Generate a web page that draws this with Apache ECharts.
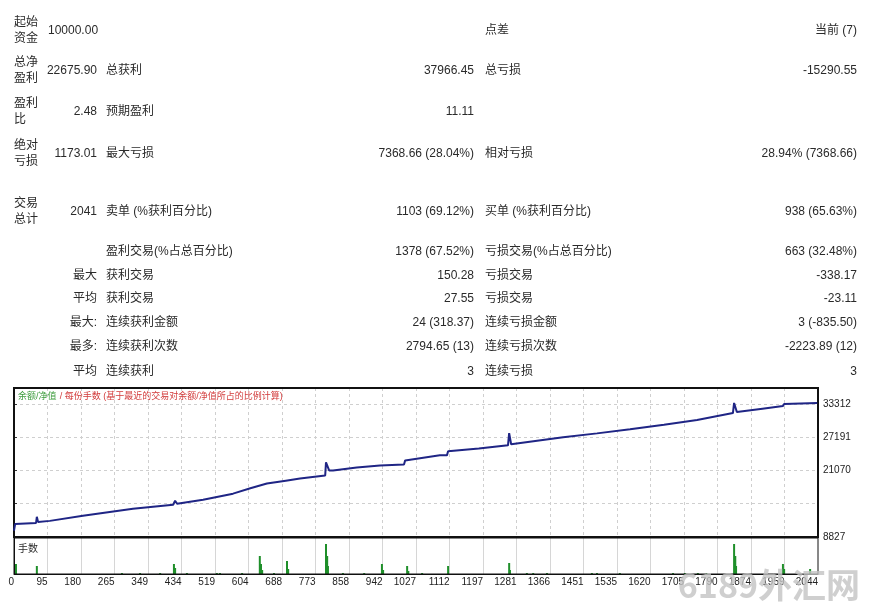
<!DOCTYPE html>
<html><head><meta charset="utf-8">
<script src="https://cdn.jsdelivr.net/npm/echarts@6/dist/echarts.min.js"></script>
<style>html,body{margin:0;padding:0;background:#fff}#c{width:870px;height:607px}</style>
</head><body><div id="c"></div>
<script>
// ---- data ----
const totalTrades = 2041;
const xTickLabels = ['0','95','180','265','349','434','519','604','688','773','858','942','1027','1112','1197','1281','1366','1451','1535','1620','1705','1790','1874','1959','2044'];
const yTickLabels = ['8827','','21070','27191','33312'];
const yMin = 8827, yStep = 6121, yMax = 36250;

const balanceTrade = [0,3,56,58,61,91,175,302,404,409,414,480,556,600,642,690,726,790,792,800,810,870,929,990,993,1081,1099,1102,1180,1254,1257,1262,1394,1480,1564,1650,1734,1825,1828,1835,1900,1952,1955,1958,2039];
const balanceValue = [10000,11238,11424,12537,11610,11795,12723,14021,14763,15505,14949,15690,16804,17800,18659,19200,19586,20143,22554,21070,21070,21600,22001,22183,22925,23852,23852,24594,25100,25708,27934,25894,27191,27900,28676,29500,30345,31644,33499,31829,32450,32942,33313,32990,33499];

const lotTrade = [5,58,274,320,371,406,409,439,515,523,579,624,627,630,660,693,696,792,795,797,835,889,934,937,998,1001,1036,1102,1257,1259,1302,1318,1353,1467,1480,1538,1673,1703,1736,1759,1828,1831,1833,1952,1955,2021];
const lotValue = [1.0,0.8,0.1,0.1,0.1,1.0,0.6,0.1,0.1,0.1,0.1,1.8,1.0,0.4,0.1,1.3,0.5,3.0,1.8,0.8,0.1,0.1,1.0,0.4,0.8,0.3,0.1,0.8,1.1,0.4,0.1,0.1,0.1,0.1,0.1,0.1,0.1,0.1,0.1,0.1,3.0,1.8,0.8,1.0,0.5,0.5];

// report table
const rowLabels = [['起始','资金'],['总净','盈利'],['盈利','比'],['绝对','亏损'],['交易','总计'],[''],['最大'],['平均'],['最大:'],['最多:'],['平均']];
const rowValues = ['10000.00','22675.90','2.48','1173.01','2041','','','','','',''];
const midLabels = ['','总获利','预期盈利','最大亏损','卖单 (%获利百分比)','盈利交易(%占总百分比)','获利交易','获利交易','连续获利金额','连续获利次数','连续获利'];
const midValues = ['','37966.45','11.11','7368.66 (28.04%)','1103 (69.12%)','1378 (67.52%)','150.28','27.55','24 (318.37)','2794.65 (13)','3'];
const rightLabels = ['点差','总亏损','','相对亏损','买单 (%获利百分比)','亏损交易(%占总百分比)','亏损交易','亏损交易','连续亏损金额','连续亏损次数','连续亏损'];
const rightValues = ['当前 (7)','-15290.55','','28.94% (7368.66)','938 (65.63%)','663 (32.48%)','-338.17','-23.11','3 (-835.50)','-2223.89 (12)','3'];
const rowY = [31,71,112,154,212,252,276,299,323,347,372];

// ---- build ----
const FONT = '"Liberation Sans","Noto Sans CJK SC",sans-serif';
const TXT = '#2a2a2a';
const g = [];
function t(x,y,s,align){ g.push({type:'text',x:x,y:y,style:{text:s,fill:TXT,font:'12px '+FONT,textAlign:align||'left',textVerticalAlign:'middle'}}); }
rowY.forEach((y,i)=>{
  const L = rowLabels[i];
  if (L.length===2){ t(14,y-8,L[0]); t(14,y+8,L[1]); }
  else if (L[0]) t(97,y,L[0],'right');
  if (rowValues[i]) t(i===0?48:97,y,rowValues[i],i===0?'left':'right');
  if (midLabels[i]) t(106,y,midLabels[i]);
  if (midValues[i]) t(474,y,midValues[i],'right');
  if (rightLabels[i]) t(485,y,rightLabels[i]);
  if (rightValues[i]) t(857,y,rightValues[i],'right');
});
g.push({type:'text',x:18,y:397,z:10,style:{text:'{g|余额/净值} {r|/ 每份手数 (基于最近的交易对余额/净值所占的比例计算)}',textVerticalAlign:'middle',
  rich:{g:{fill:'#3c9c3c',font:'9px '+FONT},r:{fill:'#d23a3a',font:'9px '+FONT}}}});
g.push({type:'text',x:18,y:549,z:10,style:{text:'手数',fill:TXT,font:'10px '+FONT,textVerticalAlign:'middle'}});
g.push({type:'text',x:860,y:585,z:20,style:{text:'6189外汇网',fill:'rgba(195,195,195,0.8)',font:'bold 34px "Noto Sans CJK SC",sans-serif',textAlign:'right',textVerticalAlign:'middle'}});

const xStep = totalTrades/24;
function xFmt(v){ const i=Math.round(v/xStep); return (Math.abs(v-i*xStep)<0.01 && i<xTickLabels.length)?xTickLabels[i]:''; }
function yFmt(v){ const i=Math.round((v-yMin)/yStep); return (Math.abs(v-(yMin+i*yStep))<0.5 && i<yTickLabels.length)?yTickLabels[i]:''; }

const chart = echarts.init(document.getElementById('c'),null,{renderer:'canvas'});
chart.setOption({
  animation:false,
  backgroundColor:'#fff',
  grid:[
    {left:14,right:52,top:388,height:149,show:true,borderColor:'#111',borderWidth:2,z:3},
    {left:14,right:52,top:538,height:36,show:true,borderColor:'#111',borderWidth:1,z:3}
  ],
  xAxis:[
    {type:'value',gridIndex:0,min:0,max:totalTrades,interval:xStep,axisLabel:{show:false},axisTick:{show:false},
     axisLine:{show:true,lineStyle:{color:'#111',width:2}},
     splitLine:{show:true,showMinLine:false,showMaxLine:false,lineStyle:{color:'#cfcfcf',type:[3,3],width:1}}},
    {type:'value',gridIndex:1,min:0,max:totalTrades,interval:xStep,axisTick:{show:false},
     axisLine:{show:true,lineStyle:{color:'#111',width:1}},
     splitLine:{show:true,showMinLine:false,showMaxLine:false,lineStyle:{color:'#d6d6d6',width:1}},
     axisLabel:{show:true,formatter:xFmt,align:'right',margin:3,color:'#222',fontSize:10,fontFamily:FONT,showMinLabel:true,showMaxLabel:true,hideOverlap:false}}
  ],
  yAxis:[
    {type:'value',gridIndex:0,position:'right',min:yMin,max:yMax,interval:yStep,
     axisLine:{show:true,lineStyle:{color:'#111',width:1}},axisTick:{show:true,length:3,lineStyle:{color:'#333'}},
     splitLine:{show:true,showMinLine:false,showMaxLine:false,lineStyle:{color:'#cfcfcf',type:[3,3]}},
     axisLabel:{formatter:yFmt,margin:5,color:'#222',fontSize:10,fontFamily:FONT,showMinLabel:true,showMaxLabel:true}},
    {type:'value',gridIndex:1,position:'right',min:0,max:3.6,axisLabel:{show:false},axisTick:{show:false},
     axisLine:{show:true,lineStyle:{color:'#111'}},splitLine:{show:false}}
  ],
  series:[
    {type:'line',xAxisIndex:0,yAxisIndex:0,symbol:'none',data:balanceTrade.map((x,i)=>[x,balanceValue[i]]),
     lineStyle:{color:'#1f2585',width:2},z:5},
    {type:'bar',xAxisIndex:1,yAxisIndex:1,barWidth:2,data:lotTrade.map((x,i)=>[x,lotValue[i]]),
     itemStyle:{color:'#1f8f2a'}}
  ],
  graphic:g
});
</script></body></html>
